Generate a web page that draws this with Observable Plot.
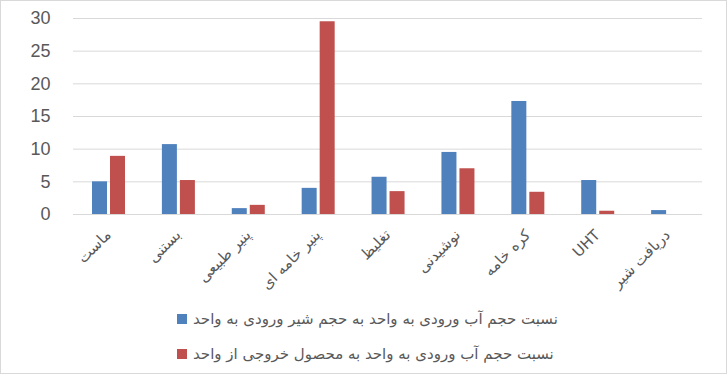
<!DOCTYPE html>
<html>
<head>
<meta charset="utf-8">
<script src="https://cdn.jsdelivr.net/npm/d3@7"></script>
<script src="https://cdn.jsdelivr.net/npm/@observablehq/plot@0.6"></script>
<style>
  html, body { margin: 0; padding: 0; background: #fff; }
  #frame { position: relative; width: 725px; height: 372px; border: 1px solid #d9d9d9; background: #fff; overflow: hidden; }
  #chart svg { display: block; }
  .leg { position: absolute; left: 176px; display: flex; align-items: center; font-family: "DejaVu Sans", sans-serif; font-size: 15px; color: #595959; white-space: nowrap; }
  .leg .sw { width: 10px; height: 10px; margin-right: 6px; flex: none; }
</style>
</head>
<body>
<div id="frame">
  <div id="chart"></div>
  <div id="legend"></div>
</div>
<script>
const categories = ["ماست", "بستنی", "پنیر طبیعی", "پنیر خامه ای", "تغلیظ", "نوشیدنی", "کره خامه", "UHT", "دریافت شیر"];
const seriesNames = ["نسبت حجم آب ورودی به واحد به حجم شیر ورودی به واحد", "نسبت حجم آب ورودی به واحد به محصول خروجی از واحد"];
const seriesColors = ["#4f81bd", "#c0504d"];
const waterPerMilk = [5.0, 10.7, 0.9, 4.0, 5.7, 9.5, 17.3, 5.2, 0.6];
const waterPerProduct = [8.9, 5.2, 1.4, 29.5, 3.5, 7.0, 3.4, 0.5, 0];
const yTicks = [0, 5, 10, 15, 20, 25, 30];

const W = 725, H = 300;
const mL = 72, mR = 24, mT = 17, mB = 87;
const band = (W - mL - mR) / categories.length;

const chart = Plot.plot({
  width: W, height: H,
  marginTop: mT, marginBottom: mB, marginLeft: mL, marginRight: mR,
  style: { background: "transparent" },
  x: { domain: categories, padding: 0, round: false, label: null },
  y: { domain: [0, 30], label: null },
  marks: [
    Plot.gridY(yTicks, { stroke: "#d9d9d9", strokeOpacity: 1, strokeWidth: 1 }),
    Plot.barY(categories, { x: d => d, y: (d, i) => waterPerMilk[i], fill: seriesColors[0], insetLeft: 19, insetRight: band - 34 }),
    Plot.barY(categories, { x: d => d, y: (d, i) => waterPerProduct[i], fill: seriesColors[1], insetLeft: 37, insetRight: band - 52 }),
    Plot.axisY(yTicks, { tickSize: 0, tickPadding: 23, fontSize: 18, fontFamily: "Liberation Sans, Arial, sans-serif", fill: "#595959", label: null }),
    Plot.axisX({ tickSize: 0, tickRotate: -45, tickPadding: 18, fontSize: 15, fontFamily: "DejaVu Sans, sans-serif", fill: "#595959", label: null })
  ]
});
document.getElementById("chart").appendChild(chart);

const legend = document.getElementById("legend");
const rowTops = [309, 344];
seriesNames.forEach((name, i) => {
  const row = document.createElement("div");
  row.className = "leg";
  row.style.top = rowTops[i] + "px";
  const sw = document.createElement("span");
  sw.className = "sw";
  sw.style.background = seriesColors[i];
  const t = document.createElement("span");
  t.dir = "rtl";
  t.textContent = name;
  row.appendChild(sw);
  row.appendChild(t);
  legend.appendChild(row);
});
</script>
</body>
</html>
